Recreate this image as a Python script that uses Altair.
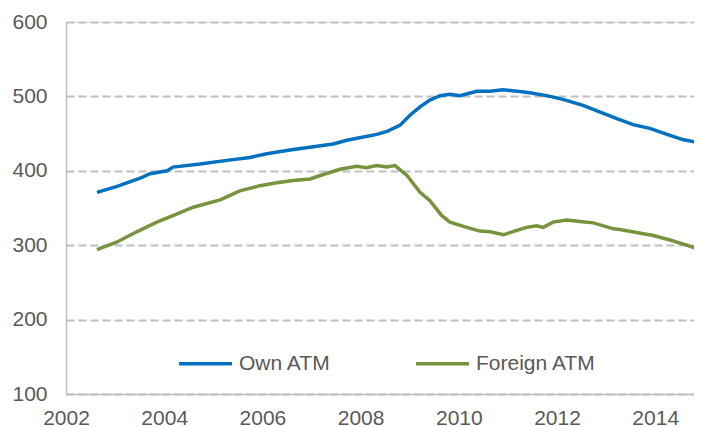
import altair as alt
import pandas as pd

# Own ATM (blue) - decimal year, value
own_year = [2002.63, 2003.04, 2003.51, 2003.71, 2004.06, 2004.18, 2004.73, 2005.28,
            2005.75, 2006.09, 2006.56, 2007.11, 2007.44, 2007.72, 2008.33, 2008.54,
            2008.80, 2009.01, 2009.21, 2009.41, 2009.62, 2009.82, 2010.02, 2010.37,
            2010.64, 2010.90, 2011.19, 2011.45, 2011.86, 2012.12, 2012.53, 2012.88,
            2013.22, 2013.55, 2013.89, 2014.24, 2014.56, 2014.95]
own_val = [371, 379, 390, 396, 400, 405, 409, 414,
           418, 423, 428, 433, 436, 441, 449, 453,
           461, 475, 486, 495, 501, 503, 501, 507,
           507, 509, 507, 505, 500, 496, 488, 479,
           470, 462, 457, 449, 442, 437]

# Foreign ATM (green)
for_year = [2002.63, 2003.03, 2003.44, 2003.85, 2004.19, 2004.59, 2005.14, 2005.54,
            2005.95, 2006.29, 2006.63, 2006.97, 2007.24, 2007.58, 2007.92, 2008.12,
            2008.33, 2008.53, 2008.70, 2008.94, 2009.21, 2009.41, 2009.65, 2009.82,
            2010.16, 2010.43, 2010.64, 2010.91, 2011.18, 2011.38, 2011.59, 2011.72,
            2011.92, 2012.20, 2012.47, 2012.74, 2013.15, 2013.28, 2013.62, 2013.96,
            2014.30, 2014.64, 2014.95]
for_val = [294, 304, 318, 331, 340, 351, 361, 373,
           380, 384, 387, 389, 395, 402, 406, 404,
           407, 405, 407, 394, 371, 360, 340, 331,
           324, 319, 318, 314, 320, 324, 326, 324,
           331, 334, 332, 330, 322, 321, 317, 313,
           307, 300, 293]

series_names = ["Own ATM", "Foreign ATM"]
series_colors = ["#0070C0", "#77933C"]
x_ticks = [2002, 2004, 2006, 2008, 2010, 2012, 2014]
y_ticks = [100, 200, 300, 400, 500, 600]

df = pd.concat([
    pd.DataFrame({"year": own_year, "value": own_val, "series": series_names[0]}),
    pd.DataFrame({"year": for_year, "value": for_val, "series": series_names[1]}),
])

FONT = "Liberation Sans"
GREY = "#595959"
LINE = "#BFBFBF"

chart = alt.Chart(df).mark_line(strokeWidth=3.5, clip=True).encode(
    x=alt.X("year:Q",
            scale=alt.Scale(domain=[2002, 2014.79], nice=False, zero=False),
            axis=alt.Axis(values=x_ticks, format="d", title=None, grid=False,
                          ticks=False, domainColor=LINE, domainWidth=1.5,
                          labelFont=FONT, labelFontSize=21, labelColor=GREY,
                          labelPadding=13, labelFlush=False)),
    y=alt.Y("value:Q",
            scale=alt.Scale(domain=[100, 600], nice=False, zero=False),
            axis=alt.Axis(values=y_ticks, title=None, grid=True, gridColor=LINE,
                          gridDash=[8, 4], gridWidth=2, ticks=False,
                          domainColor=LINE, domainWidth=1.5,
                          labelFont=FONT, labelFontSize=21, labelColor=GREY,
                          labelPadding=19)),
    color=alt.Color("series:N",
                    scale=alt.Scale(domain=series_names, range=series_colors),
                    legend=alt.Legend(title=None, orient="none", direction="horizontal",
                                      legendX=111, legendY=313,
                                      symbolType="stroke", symbolSize=2809,
                                      symbolStrokeWidth=3.5, labelOffset=5,
                                      columnPadding=78,
                                      labelFont=FONT, labelFontSize=21,
                                      labelColor=GREY)),
).properties(
    width=628, height=372,
    autosize=alt.AutoSizeParams(type="none"),
    padding={"left": 58, "top": 14, "right": 0, "bottom": 33},
).configure_view(stroke=None).configure(background="white")

chart.save("out.html", embed_options={"renderer": "svg", "actions": False})
